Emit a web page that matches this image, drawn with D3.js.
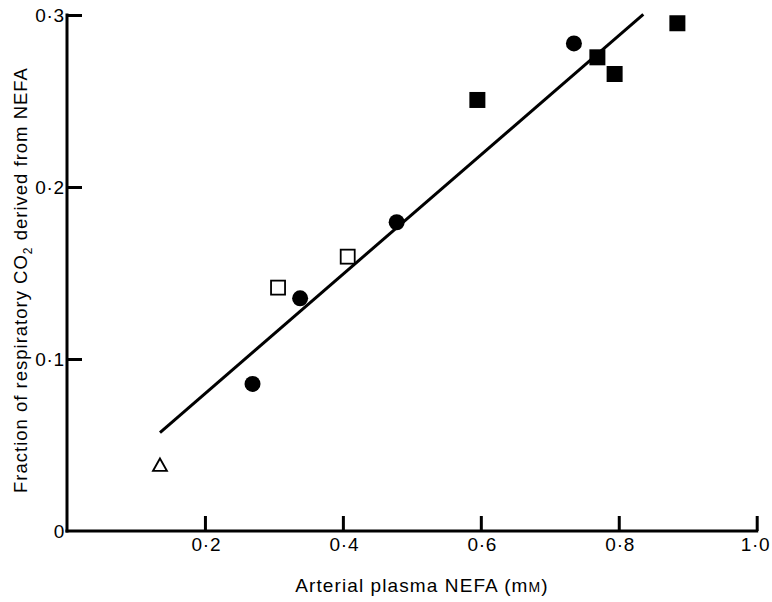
<!DOCTYPE html>
<html><head><meta charset="utf-8">
<script src="https://cdn.jsdelivr.net/npm/d3@7"></script>
<style>body{margin:0;background:#fff}svg{display:block}text{font-family:"Liberation Sans",Arial,Helvetica,sans-serif;fill:#000}</style>
</head><body><svg id="c" width="772" height="602"></svg>
<script>
const xTicks = [0.2, 0.4, 0.6, 0.8, 1.0];
const xTickLabels = ["0·2", "0·4", "0·6", "0·8", "1·0"];
const yTicks = [0, 0.1, 0.2, 0.3];
const yTickLabels = ["0", "0·1", "0·2", "0·3"];
const filledCircles = [[0.269, 0.0855], [0.338, 0.1353], [0.478, 0.1795], [0.735, 0.2835]];
const openSquares = [[0.306, 0.1415], [0.407, 0.1595]];
const filledSquares = [[0.595, 0.2506], [0.769, 0.2754], [0.794, 0.2657], [0.885, 0.2952]];
const openTriangles = [[0.1348, 0.0384]];
const regressionLine = [[0.1348, 0.0572], [0.8356, 0.3004]];

const svg = d3.select("#c");
const x = d3.scaleLinear().domain([0, 1]).range([67, 756.7]);
const y = d3.scaleLinear().domain([0, 0.3]).range([531, 15]);

// axes lines
svg.append("line").attr("x1", x(0)).attr("x2", x(1)).attr("y1", y(0)).attr("y2", y(0))
  .attr("stroke", "#000").attr("stroke-width", 3).attr("stroke-linecap", "square");
svg.append("line").attr("x1", x(0)).attr("x2", x(0)).attr("y1", y(0)).attr("y2", y(0.3))
  .attr("stroke", "#000").attr("stroke-width", 3).attr("stroke-linecap", "square");

// ticks via d3 axis (lines only)
const xa = svg.append("g").attr("transform", `translate(0,${y(0)})`)
  .call(d3.axisBottom(x).tickValues(xTicks).tickSize(-15).tickFormat(""));
xa.select(".domain").remove();
xa.selectAll(".tick line").attr("stroke", "#000").attr("stroke-width", 3);
xa.selectAll(".tick text").remove();

const ya = svg.append("g").attr("transform", `translate(${x(0)},0)`)
  .call(d3.axisLeft(y).tickValues(yTicks.filter(d => d > 0)).tickSize(-15).tickFormat(""));
ya.select(".domain").remove();
ya.selectAll(".tick line").attr("stroke", "#000").attr("stroke-width", 3);
ya.selectAll(".tick text").remove();

// tick labels
const labs = svg.append("g").attr("font-size", 19).attr("letter-spacing", 0.8);
labs.selectAll("text.xl").data(xTicks).join("text").attr("class", "xl")
  .attr("x", d => d === 1 ? 770.5 : x(d) + 1.5).attr("y", y(0) + 20)
  .attr("text-anchor", d => d === 1 ? "end" : "middle")
  .text((d, i) => xTickLabels[i]);
labs.selectAll("text.yl").data(yTicks).join("text").attr("class", "yl")
  .attr("x", x(0) - 2).attr("y", d => y(d) + 7).attr("text-anchor", "end")
  .text((d, i) => yTickLabels[i]);

// regression line
svg.append("path").datum(regressionLine)
  .attr("d", d3.line().x(d => x(d[0])).y(d => y(d[1])))
  .attr("stroke", "#000").attr("stroke-width", 3).attr("fill", "none");

// markers
svg.selectAll("circle.fc").data(filledCircles).join("circle").attr("class", "fc")
  .attr("cx", d => x(d[0])).attr("cy", d => y(d[1])).attr("r", 8).attr("fill", "#000");
svg.selectAll("rect.fs").data(filledSquares).join("rect").attr("class", "fs")
  .attr("x", d => x(d[0]) - 8).attr("y", d => y(d[1]) - 8).attr("width", 16).attr("height", 16).attr("fill", "#000");
svg.selectAll("rect.os").data(openSquares).join("rect").attr("class", "os")
  .attr("x", d => x(d[0]) - 7).attr("y", d => y(d[1]) - 7).attr("width", 14).attr("height", 14)
  .attr("fill", "#fff").attr("stroke", "#000").attr("stroke-width", 1.8);
svg.selectAll("path.ot").data(openTriangles).join("path").attr("class", "ot")
  .attr("transform", d => `translate(${x(d[0])},${y(d[1])})`)
  .attr("d", "M0,-6.5L7,6L-7,6Z")
  .attr("fill", "#fff").attr("stroke", "#000").attr("stroke-width", 1.8);

// axis titles
const xt = svg.append("text").attr("x", 422).attr("y", 592).attr("text-anchor", "middle")
  .attr("font-size", 19).attr("letter-spacing", 1.1);
xt.append("tspan").text("Arterial plasma NEFA (m");
xt.append("tspan").attr("font-size", 14).text("M");
xt.append("tspan").text(")");

const yt = svg.append("text").attr("transform", "translate(27,280) rotate(-90)")
  .attr("text-anchor", "middle").attr("font-size", 18.5).attr("letter-spacing", 1);
yt.append("tspan").text("Fraction of respiratory CO");
yt.append("tspan").attr("font-size", 12).attr("dy", 5).text("2");
yt.append("tspan").attr("dy", -5).text(" derived from NEFA");
</script></body></html>
